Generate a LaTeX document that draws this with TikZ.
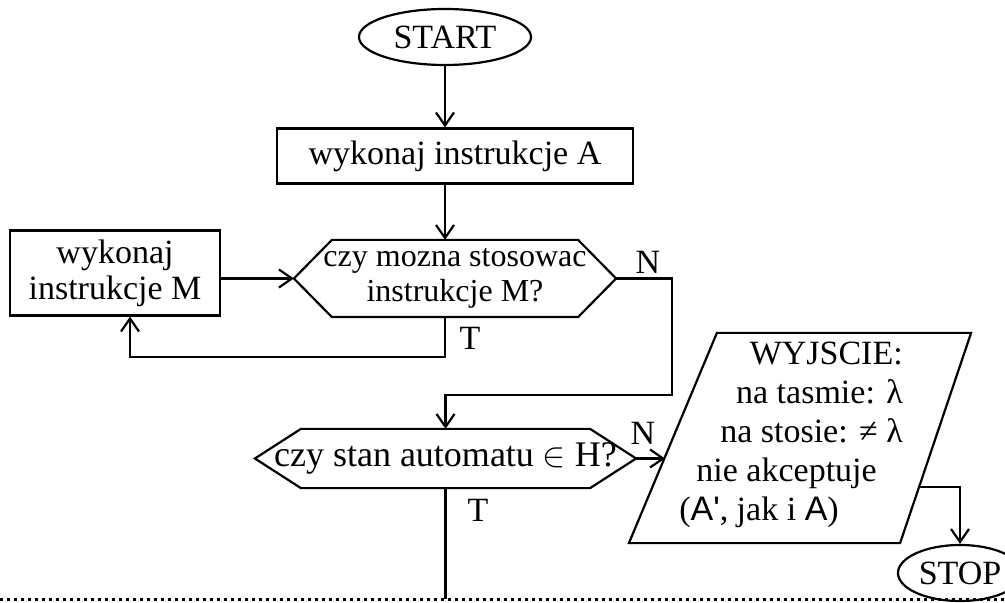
\documentclass[tikz,border=0pt]{standalone}
\usepackage{fontspec}
\setmainfont{Liberation Serif}
\newfontfamily\sansA{Liberation Sans}
\usetikzlibrary{arrows.meta,shapes.geometric,positioning}

\begin{document}
\begin{tikzpicture}
  [x=0.5pt, y=-0.5pt, line width=1.1pt,
   font=\fontsize{17}{18}\selectfont,
   >={Straight Barb[length=6.5pt,width=9pt]},
   term/.style={ellipse, draw, inner sep=0pt, minimum width=86pt, minimum height=28pt},
   proc/.style={rectangle, draw, align=center, inner sep=0pt},
   cond/.style={rectangle, align=center, inner sep=0pt,
     append after command={\pgfextra{\draw (\tikzlastnode.west)
       -- ([xshift=#1]\tikzlastnode.north west) -- ([xshift=-#1]\tikzlastnode.north east)
       -- (\tikzlastnode.east) -- ([xshift=-#1]\tikzlastnode.south east)
       -- ([xshift=#1]\tikzlastnode.south west) -- cycle;}}},
   io/.style 2 args={rectangle, inner sep=0pt,
     append after command={\pgfextra{\draw (\tikzlastnode.south west)
       -- ([xshift=-#2]\tikzlastnode.south east) -- (\tikzlastnode.north east)
       -- ([xshift=#1]\tikzlastnode.north west) -- cycle;}}},
   lbl/.style={inner sep=0pt}]
  \useasboundingbox (0,0) rectangle (1005,603);

  \node[term] (start) at (445,37) {START};
  \node[proc, minimum width=178pt, minimum height=27.5pt] (boxA) at (455,156) {wykonaj instrukcje A};
  \node[cond=19pt, minimum width=160pt, minimum height=37.5pt, font=\fontsize{16}{17.5}\selectfont] (hex1) at (455,278.5) {czy mozna stosowac\\instrukcje M?};
  \node[proc, minimum width=105pt, minimum height=42.5pt] (boxM) at (115,273) {wykonaj\\instrukcje M};
  \node[cond=23pt, minimum width=189.5pt, minimum height=28.5pt, font=\fontsize{18}{18}\selectfont] (hex2) at (445.5,458.5) {czy stan automatu $\in$ H?};
  \node[io={44pt}{35.5pt}, minimum width=170pt, minimum height=104pt] (io) at (800,438) {};
  \node[align=right, inner sep=0pt, font=\fontsize{17}{19.5}\selectfont] (ioText) at (791,435)
    {WYJSCIE:\\ na tasmie: λ\\ na stosie: ≠ λ\\ nie akceptuje\hspace{13pt}\mbox{}\\ ({\sansA A'}, jak i {\sansA A})\hspace*{32pt}};
  \node[term, minimum width=62pt] (stop) at (960,573) {STOP};

  \coordinate (tM) at (130,357);
  \coordinate (nA) at (672,395);
  \coordinate (ioIn) at (665,459);
  \coordinate (ioOut) at (918,487);
  \coordinate (dotL) at (0,599);
  \coordinate (dotR) at (1005,599);

  \node[lbl] (lblN1) at (648,262) {N};
  \node[lbl] (lblT1) at (470,338) {T};
  \node[lbl] (lblN2) at (643,433) {N};
  \node[lbl] (lblT2) at (478,510) {T};

  \draw[->] (start) -- (start |- boxA.north);
  \draw[->] (boxA.south -| start) -- (hex1.north -| start);
  \draw[->] (boxM.east |- hex1.west) -- (hex1.west);
  \draw[->] (hex1.south -| start) |- (tM) -- (tM |- boxM.south);
  \draw[->] (hex1.east) -| (nA) -| (hex2.north);
  \draw[->] (hex2.east) -- (hex2.east -| ioIn);
  \draw (hex2.south) -- (hex2.south |- dotL);
  \draw[->] (ioOut) -| (stop.north);
  \draw[line width=1.5pt, dash pattern=on 1.3pt off 2.2pt] (dotL) -- (dotR);
\end{tikzpicture}
\end{document}
